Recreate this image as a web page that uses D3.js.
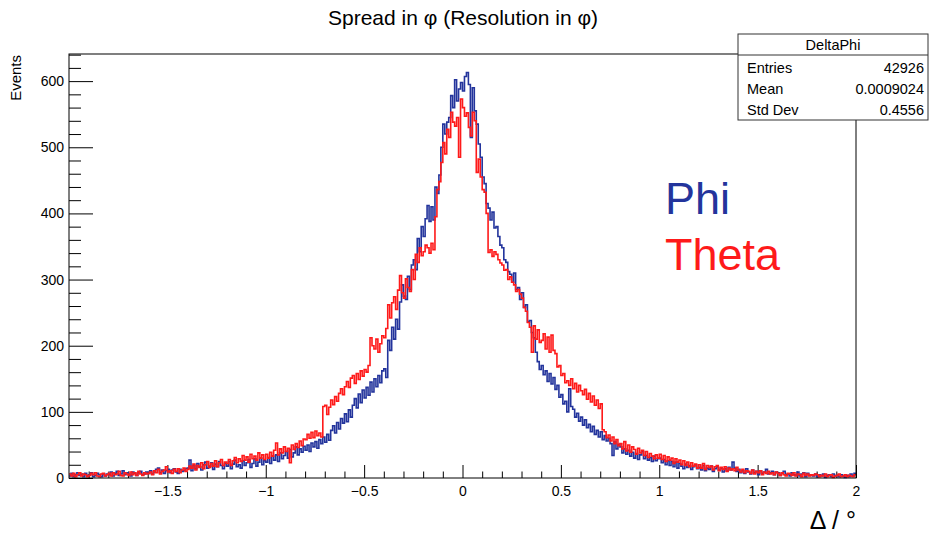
<!DOCTYPE html>
<html lang="en">
<head>
    <meta charset="UTF-8">
    <title>Spread in φ (Resolution in φ)</title>
    <script src="https://d3js.org/d3.v7.min.js"></script>
    <style>
        body {
            margin: 0;
            background: #fff;
            font-family: "Liberation Sans", Arial, sans-serif;
        }
        .tick text {
            font-size: 14px;
            fill: #000;
        }
        .tick line {
            stroke: #000;
        }
        .domain {
            display: none;
        }
    </style>
</head>
<body>
    <svg width="930" height="533"></svg>
    <script>
        // Histogram binning (400 bins from -2 to 2)
        const xMin = -2;
        const xMax = 2;
        const nBins = 400;

        // Phi counts, 20 bins per row (one row = 0.2 in x)
        const phiCounts = [
            3,7,2,5,8,4,6,2,7,3,5,8,2,4,7,5,2,6,3,6,
            5,9,3,7,10,4,6,11,5,8,6,3,9,7,4,8,10,5,6,9,
            7,11,6,9,13,15,8,12,7,11,13,8,12,14,9,7,13,10,11,14,
            15,27,11,19,14,22,17,12,20,24,15,18,23,13,21,17,25,19,14,22,
            18,25,14,21,27,17,20,15,26,19,23,28,16,22,29,18,24,30,20,26,
            24,31,22,33,27,35,25,38,29,34,40,30,43,32,38,47,35,44,39,48,
            42,50,40,53,47,55,45,58,52,62,54,66,57,72,79,68,84,74,90,83,
            97,85,103,92,110,120,106,127,114,133,121,137,125,145,130,150,138,155,144,162,
            165,152,208,193,228,210,240,225,266,292,275,270,305,285,322,330,315,362,342,380,
            365,392,412,388,410,390,440,430,458,500,535,520,538,545,578,560,602,570,588,598,
            585,607,613,595,515,590,555,535,505,485,455,445,415,408,390,402,378,380,365,352,
            348,330,326,312,308,296,310,285,288,270,280,258,262,236,238,220,212,190,176,164,
            170,156,162,146,158,142,152,134,140,122,126,112,116,100,135,108,104,92,98,86,
            92,80,88,76,81,70,78,66,72,62,70,58,64,56,60,52,34,55,44,51,
            47,38,44,36,42,33,39,30,37,28,35,40,29,34,27,31,25,33,26,29,
            30,23,28,20,26,19,25,17,24,15,22,18,14,21,16,19,13,17,20,14,
            16,12,19,11,15,13,18,10,14,17,12,15,9,14,11,16,12,24,15,10,
            13,8,11,7,14,9,6,12,8,10,5,11,7,9,13,6,8,10,5,9,
            8,4,7,10,5,6,3,8,5,4,9,3,6,8,2,7,4,5,3,6,
            2,5,3,6,1,4,5,2,6,3,4,2,5,3,1,4,2,6,3,7
        ];

        // Theta counts, same binning
        const thetaCounts = [
            6,3,7,2,5,8,3,6,5,2,4,7,5,8,3,2,6,7,3,5,
            7,3,8,5,6,10,4,3,8,6,4,9,5,8,4,10,6,4,8,6,
            7,9,5,11,8,13,6,10,12,17,9,11,7,13,10,14,8,12,15,10,
            13,18,15,21,12,19,16,23,14,20,25,16,22,18,26,17,23,28,19,24,
            22,28,19,26,31,23,29,25,34,27,32,24,36,29,33,27,38,30,35,28,
            36,30,39,33,42,53,35,44,38,47,40,45,23,50,43,52,46,56,49,59,
            58,66,60,69,61,71,64,68,62,108,110,96,107,118,111,123,116,128,135,126,
            138,146,137,151,155,143,158,149,162,154,164,160,170,212,200,195,210,190,203,215,
            212,226,262,242,265,274,255,284,306,280,272,301,288,282,315,300,338,326,348,336,
            342,352,348,340,355,345,395,436,448,477,507,490,527,515,553,538,532,545,485,573,
            560,547,552,530,517,553,540,462,482,455,436,432,400,341,345,335,342,338,330,325,
            322,314,315,300,304,296,292,282,285,278,272,258,252,235,228,190,230,210,224,205,
            208,218,195,213,190,216,193,188,168,170,155,158,144,147,140,150,135,143,130,140,
            132,126,134,119,128,115,124,110,118,105,112,73,70,61,65,56,62,52,58,49,
            52,44,55,41,50,39,47,43,36,45,38,42,34,40,31,37,33,29,35,30,
            36,28,34,25,32,27,30,22,29,24,27,20,26,19,24,17,23,18,21,15,
            20,15,22,13,19,16,18,12,17,19,11,16,13,17,10,15,12,14,11,16,
            12,9,13,8,11,10,7,12,6,10,8,11,5,9,7,10,6,8,5,9,
            7,4,8,5,3,7,6,4,8,3,6,5,2,7,4,6,3,5,4,6,
            5,2,4,3,6,2,4,5,1,3,4,6,2,3,5,2,4,3,2,5
        ];

        // Axis ticks
        const xMajorTicks = [-1.5, -1, -0.5, 0, 0.5, 1, 1.5, 2];
        const yMajorTicks = [0, 100, 200, 300, 400, 500, 600];
        const yMax = 641;

        // Stats box rows
        const statsTitle = "DeltaPhi";
        const statsLabels = ["Entries", "Mean", "Std Dev"];
        const statsValues = ["42926", "0.0009024", "0.4556"];

        const seriesNames = ["Phi", "Theta"];
        const seriesColors = ["#23349c", "#fe1a1a"];

        const svg = d3.select("svg");
        const frame = { left: 69, right: 856, top: 54, bottom: 478 };

        const x = d3.scaleLinear().domain([xMin, xMax]).range([frame.left, frame.right]);
        const y = d3.scaleLinear().domain([0, yMax]).range([frame.bottom, frame.top]);

        const binWidth = (xMax - xMin) / nBins;

        // Minor ticks
        const xMinorTicks = d3.range(-19, 21).map(k => k / 10).filter(v => !xMajorTicks.some(m => Math.abs(m - v) < 1e-9));
        const yMinorTicks = d3.range(0, yMax, 20).filter(v => v % 100 !== 0);

        const fmt = d => (d < 0 ? "\u2212" : "") + Math.abs(d);

        // X axis
        svg.append("g")
            .attr("transform", `translate(0,${frame.bottom})`)
            .call(d3.axisBottom(x).tickValues(xMinorTicks).tickSize(-6.5).tickSizeOuter(0).tickFormat(""));
        svg.append("g")
            .attr("transform", `translate(0,${frame.bottom})`)
            .call(d3.axisBottom(x).tickValues(xMajorTicks).tickSize(-13).tickSizeOuter(0).tickPadding(8).tickFormat(fmt));

        // Y axis
        svg.append("g")
            .attr("transform", `translate(${frame.left},0)`)
            .call(d3.axisLeft(y).tickValues(yMinorTicks).tickSize(-12).tickSizeOuter(0).tickFormat(""));
        svg.append("g")
            .attr("transform", `translate(${frame.left},0)`)
            .call(d3.axisLeft(y).tickValues(yMajorTicks).tickSize(-24).tickSizeOuter(0).tickPadding(5).tickFormat(fmt));

        // Histograms as step lines
        const stepLine = d3.line()
            .x(d => x(d[0]))
            .y(d => y(d[1]))
            .curve(d3.curveStepAfter);

        [phiCounts, thetaCounts].forEach((counts, s) => {
            const pts = counts.map((c, i) => [xMin + i * binWidth, c]);
            pts.push([xMax, counts[counts.length - 1]]);
            svg.append("path")
                .datum(pts)
                .attr("fill", "none")
                .attr("stroke", seriesColors[s])
                .attr("stroke-width", 1.6)
                .attr("d", stepLine);
        });

        // Frame
        svg.append("rect")
            .attr("x", frame.left)
            .attr("y", frame.top)
            .attr("width", frame.right - frame.left)
            .attr("height", frame.bottom - frame.top)
            .attr("fill", "none")
            .attr("stroke", "#000")
            .attr("stroke-width", 1);

        // Title
        svg.append("text")
            .attr("x", 463)
            .attr("y", 25)
            .attr("text-anchor", "middle")
            .attr("font-size", 21)
            .text("Spread in \u03c6 (Resolution in \u03c6)");

        // Axis titles
        svg.append("text")
            .attr("transform", "translate(21,55) rotate(-90)")
            .attr("text-anchor", "end")
            .attr("font-size", 15)
            .text("Events");

        svg.append("text")
            .attr("x", 856)
            .attr("y", 529)
            .attr("text-anchor", "end")
            .attr("font-size", 25)
            .text("\u0394 / \u00b0");

        // Legend text
        seriesNames.forEach((name, i) => {
            svg.append("text")
                .attr("x", 665)
                .attr("y", 214 + i * 56)
                .attr("font-size", 45)
                .attr("fill", seriesColors[i])
                .text(name);
        });

        // Stats box
        const box = { x: 738, y: 34, w: 190, h: 86, head: 21 };
        svg.append("rect")
            .attr("x", box.x).attr("y", box.y)
            .attr("width", box.w).attr("height", box.h)
            .attr("fill", "#fff")
            .attr("stroke", "#333");
        svg.append("line")
            .attr("x1", box.x).attr("x2", box.x + box.w)
            .attr("y1", box.y + box.head).attr("y2", box.y + box.head)
            .attr("stroke", "#333");
        svg.append("text")
            .attr("x", box.x + box.w / 2)
            .attr("y", box.y + 16)
            .attr("text-anchor", "middle")
            .attr("font-size", 14.5)
            .text(statsTitle);
        statsLabels.forEach((lab, i) => {
            const yy = box.y + box.head + 18 + i * 21;
            svg.append("text")
                .attr("x", box.x + 9).attr("y", yy)
                .attr("font-size", 14.5)
                .text(lab);
            svg.append("text")
                .attr("x", box.x + box.w - 4).attr("y", yy)
                .attr("text-anchor", "end")
                .attr("font-size", 14.5)
                .text(statsValues[i]);
        });
    </script>
</body>
</html>
